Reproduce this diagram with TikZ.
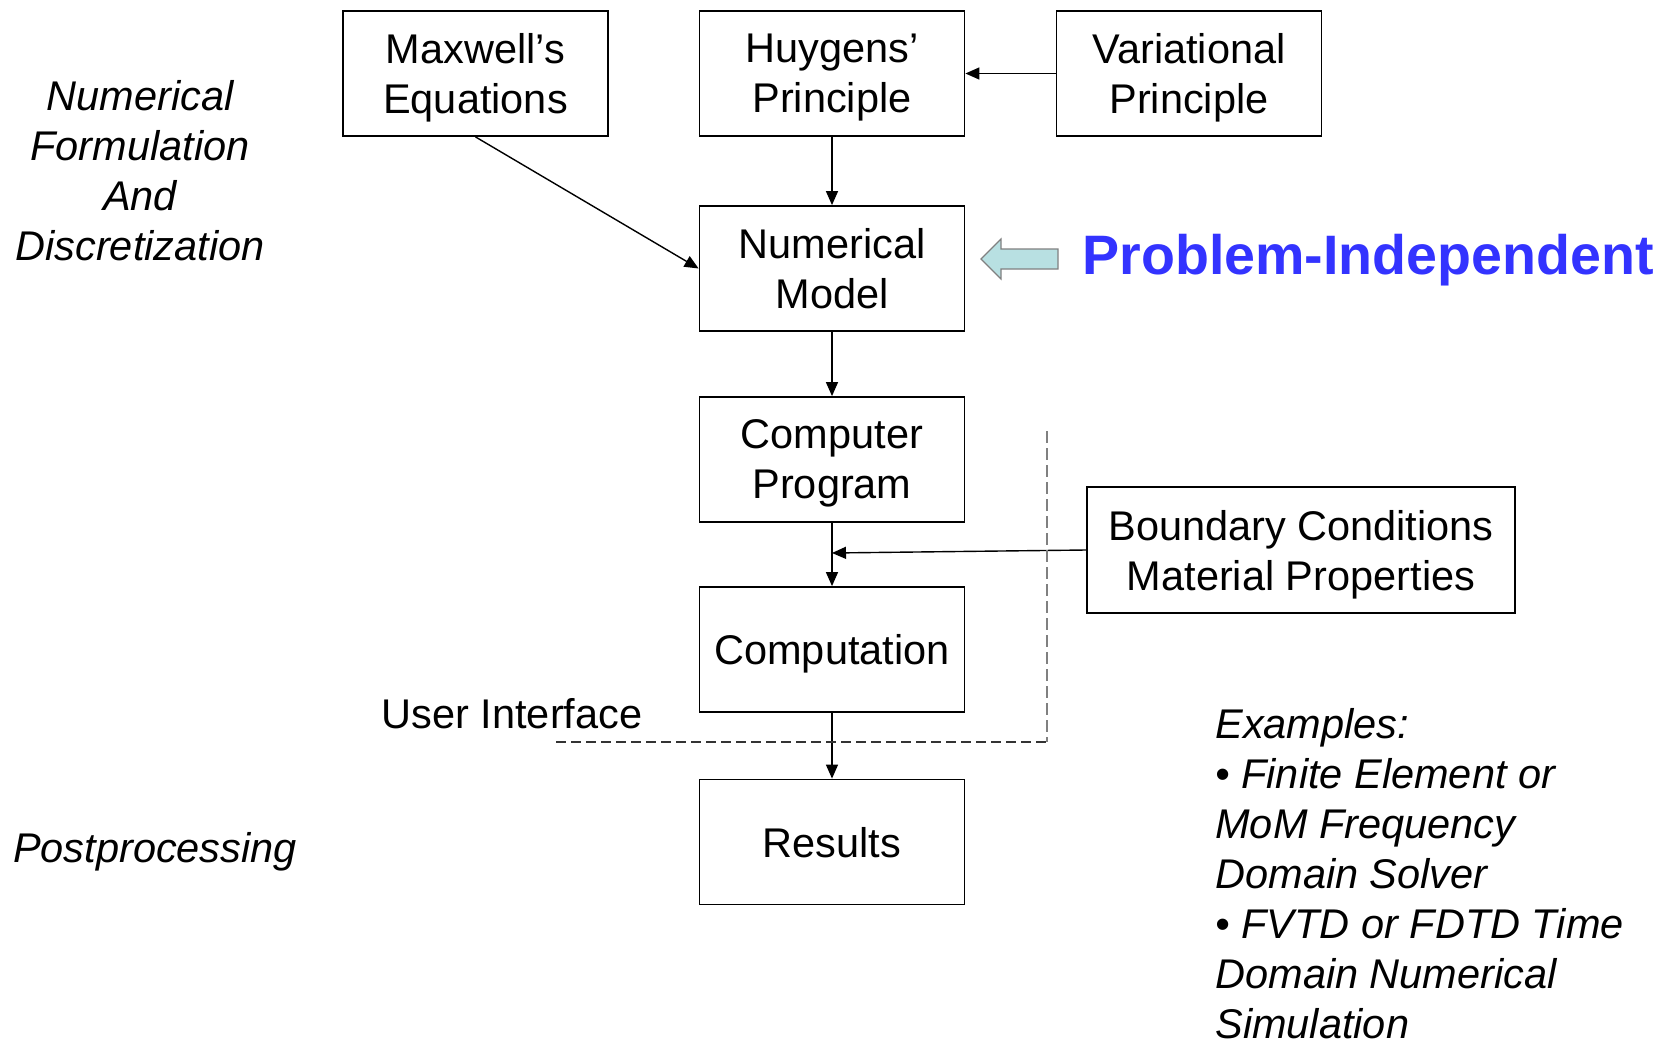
\documentclass[tikz,border=0pt]{standalone}
\usepackage{fontspec}
\setmainfont{Liberation Sans}
\usetikzlibrary{arrows.meta}
\definecolor{pblue}{RGB}{51,51,255}
\definecolor{arrowfill}{RGB}{184,224,226}
\begin{document}
\begin{tikzpicture}[x=0.5pt,y=-0.5pt,
  every node/.style={font=\fontsize{20.75}{25}\selectfont},
  box/.style={draw, line width=0.9pt, minimum width=132.5pt, minimum height=62.5pt, inner sep=0pt, align=center, text depth=0pt},
  conn/.style={line width=0.7pt, -{Triangle[length=7pt,width=6pt]}},
  label/.style={align=center, inner sep=0pt, font=\fontsize{20.75}{25}\selectfont\itshape}]
\useasboundingbox (0,0) rectangle (1667,1044);
\node[box] (max) at (475.5,73.5) {Maxwell’s\\Equations};
\node[box] (huy) at (832,73.5) {Huygens’\\Principle};
\node[box] (var) at (1189,73.5) {Variational\\Principle};
\node[box] (num) at (832,268.5) {Numerical\\Model};
\node[box] (prog) at (832,459.5) {Computer\\Program};
\node[box] (comp) at (832,649.5) {Computation};
\node[box] (res) at (832,842) {Results};
\node[box, minimum width=214pt, minimum height=63pt] (bc) at (1301,550) {Boundary Conditions\\Material Properties};
\coordinate (j) at (832,553);
\draw[conn] (var) -- (huy);
\draw[conn] (huy) -- (num);
\draw[conn] (max.south) -- (num.west);
\draw[conn] (num) -- (prog);
\draw[conn] (prog) -- (comp);
\draw[conn] (comp) -- (res);
\draw[conn] (bc.west) -- (j);
\draw[gray, line width=0.6pt, dash pattern=on 6pt off 2.5pt] (1047,431) -- (1047,742);
\draw[line width=0.7pt, black!80, dash pattern=on 5pt off 2.5pt] (556,742) -- (1050,742);
\node[inner sep=0pt] (ui) at (512,714) {User Interface};
\draw[draw=gray, fill=arrowfill, line width=0.6pt, line join=miter]
  (981,259) -- (1001,239) -- (1001,249) -- (1058,249) -- (1058,269) -- (1001,269) -- (1001,279) -- cycle;
\node[anchor=base west, inner sep=0pt, text=pblue, font=\fontsize{27.8}{30}\selectfont\bfseries] (pi) at (1082,274) {Problem-Independent};
\node[label] (nf) at (140,171) {Numerical\\Formulation\\And\\Discretization};
\node[label] (pp) at (155,852) {Postprocessing};
\node[label, align=left, anchor=west] (ex) at (1215,874) {Examples:\\• Finite Element or\\MoM Frequency\\Domain Solver\\• FVTD or FDTD Time\\Domain Numerical\\Simulation};
\end{tikzpicture}
\end{document}
